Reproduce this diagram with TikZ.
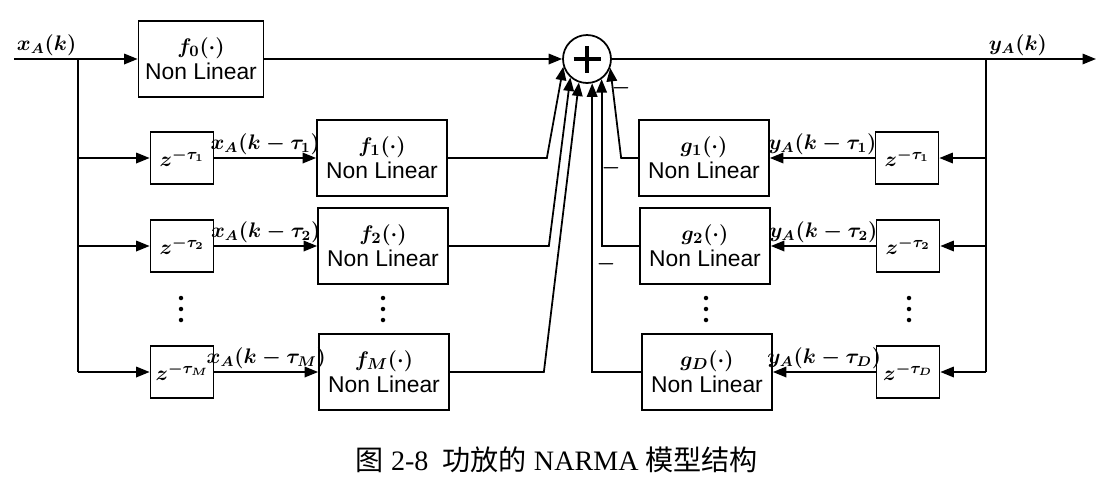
\documentclass[tikz,border=0pt]{standalone}
\usepackage[no-math]{fontspec}
\setmainfont{Liberation Serif}
\setsansfont{Liberation Sans}
\newfontfamily\cjk{Noto Sans CJK SC}
\usetikzlibrary{arrows.meta}

\tikzset{
  nl/.style  ={draw, line width=1pt, minimum width=2.6cm, minimum height=1.52cm, align=center, inner sep=1pt},
  dly/.style ={draw, line width=1pt, minimum width=1.26cm, minimum height=1.04cm, inner sep=1pt},
  sig/.style ={line width=1pt},
  arr/.style ={sig, -{Triangle[length=0.27cm,width=0.21cm]}},
  lbl/.style ={inner sep=1.5pt, font=\fontsize{12}{14}\selectfont\boldmath}
}

\begin{document}
\begin{tikzpicture}[x=0.02cm, y=-0.02cm, every node/.style={font=\fontsize{13}{15}\selectfont\boldmath}]
    \useasboundingbox (0,0) rectangle (1106,484);

    % adder
    \node[draw, circle, line width=1pt, minimum size=0.96cm, inner sep=0pt] (sum) at (587,59) {};
    \draw[line width=2.4pt] ([xshift=-0.27cm]sum.center) -- ([xshift=0.27cm]sum.center);
    \draw[line width=2.4pt] ([yshift=-0.27cm]sum.center) -- ([yshift=0.27cm]sum.center);

    % feed-forward branch (input side)
    \node[nl, minimum width=2.5cm] (f0) at (201,59) {$f_0(\cdot)$\\\sffamily Non Linear};
    \node[dly] (zx1) at (182,158) {$z^{-\tau_1}$};
    \node[dly] (zx2) at (182,246) {$z^{-\tau_2}$};
    \node[dly] (zxM) at (182,372) {$z^{-\tau_M}$};
    \node[nl] (f1) at (382,158) {$f_1(\cdot)$\\\sffamily Non Linear};
    \node[nl] (f2) at (383,246) {$f_2(\cdot)$\\\sffamily Non Linear};
    \node[nl] (fM) at (384,372) {$f_M(\cdot)$\\\sffamily Non Linear};

    % feedback branch (output side)
    \node[dly] (zy1) at (907,158) {$z^{-\tau_1}$};
    \node[dly] (zy2) at (908,246) {$z^{-\tau_2}$};
    \node[dly] (zyD) at (908,372) {$z^{-\tau_D}$};
    \node[nl] (g1) at (704,158) {$g_1(\cdot)$\\\sffamily Non Linear};
    \node[nl] (g2) at (705,246) {$g_2(\cdot)$\\\sffamily Non Linear};
    \node[nl] (gD) at (707,372) {$g_D(\cdot)$\\\sffamily Non Linear};

    % vertical dots between rows
    \foreach \cx in {181,383,706,909}
      \foreach \cy in {298,309,320}
        \fill (\cx,\cy) circle (0.045cm);

    % input and output
    \coordinate (xin) at (14,59);
    \coordinate (xj) at (78,59);
    \coordinate (yj) at (986,59);
    \coordinate (yout) at (1096,59);
    \node[above right, lbl] (xlab) at (xin) {$x_A(k)$};
    \node[above right, lbl] (ylab) at (yj) {$y_A(k)$};

    \draw[arr] (xin) -- (f0.west);
    \draw[arr] (f0.east) -- (sum.west);
    \draw[arr] (sum.east) -- (yout);
    \draw[sig] (xj) -- (xj |- zxM);
    \draw[sig] (yj) -- (yj |- zyD);

    \foreach \r in {1,2,M} {
      \draw[arr] (xj |- zx\r) -- (zx\r.west);
      \draw[arr] (zx\r.east) -- node[above, lbl] {$x_A(k-\tau_\r)$} (f\r.west);
    }
    \foreach \r in {1,2,D} {
      \draw[arr] (yj |- zy\r) -- (zy\r.east);
      \draw[arr] (zy\r.west) -- node[above, lbl] {$y_A(k-\tau_\r)$} (g\r.east);
    }

    % into the adder
    \draw[arr] (f1.east) -- ++(99,0) -- (sum.198);
    \draw[arr] (f2.east) -- ++(100,0) -- (sum.228);
    \draw[arr] (fM.east) -- ++(94,0) -- (sum.251);
    \draw[arr] (g1.west) -- ++(-17,0) -- (sum.339);
    \draw[arr] (g2.west) -- (sum.306 |- g2.west) -- (sum.306);
    \draw[arr] (gD.west) -- (sum.282 |- gD.west) -- (sum.282);
    \node (m1) at (621,88) {$-$};
    \node (m2) at (611,168) {$-$};
    \node (m3) at (606,264) {$-$};

    % caption
    \node[font=\fontsize{16}{19}\selectfont] (cap) at (557,460)
      {{\cjk 图} 2-8\ \ {\cjk 功放的} NARMA {\cjk 模型结构}};
\end{tikzpicture}
\end{document}
